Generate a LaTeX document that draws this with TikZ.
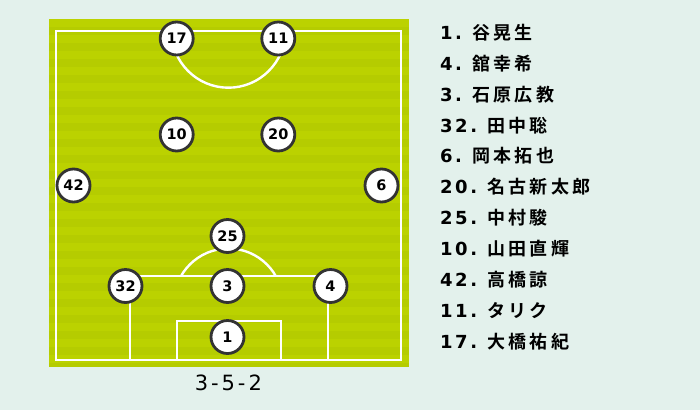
\documentclass[tikz,border=0pt]{standalone}
\usepackage{fontspec}
\setmainfont{DejaVu Sans}
\newfontfamily\jpfont{Noto Sans CJK JP}[BoldFont={* Bold},LetterSpace=19]
\newfontfamily\numfont{DejaVu Sans}[LetterSpace=14]
\newcommand{\entry}[2]{{\numfont\bfseries #1.}\hspace{10pt}{\jpfont\bfseries #2}}
\definecolor{bgc}{HTML}{E3F1EC}
\definecolor{grA}{HTML}{B5CC00}
\definecolor{grB}{HTML}{BBD200}
\definecolor{ringc}{HTML}{333333}
\tikzset{
  player/.style={circle,draw=ringc,line width=2.8pt,fill=white,minimum size=33pt,inner sep=0pt,
    font=\fontsize{14.5}{15}\selectfont\bfseries},
  pline/.style={draw=white,line width=2.4pt},
  listitem/.style={anchor=west,inner sep=0pt,font=\fontsize{18}{19}\selectfont},
}
\begin{document}
\begin{tikzpicture}[x=1pt,y=-1pt]
\useasboundingbox (0,0) rectangle (700,410);
\fill[bgc] (0,0) rectangle (700,410);
% pitch with stripes
\fill[grA] (49,19) rectangle (409,367);
\foreach \i in {0,...,21} {
  \fill[grB] (49,{19+16*\i}) rectangle (409,{min(19+16*\i+8,367)});
}
% touchlines
\draw[pline] (55.7,30.7) rectangle (401,360);
% centre circle
\begin{scope}
\clip (49,30.7) rectangle (409,120);
\draw[pline] (228.4,30.7) circle[radius=57];
\end{scope}
% penalty area
\draw[pline] (130,360) -- (130,276) -- (328,276) -- (328,360);
\draw[pline] (177,360) -- (177,321) -- (280.7,321) -- (280.7,360);
\begin{scope}
\clip (120,230) rectangle (340,276);
\draw[pline] (228.4,303) circle[radius=54.5];
\end{scope}
% players
\node[player] (p17) at (176.7,38.5) {17};
\node[player] (p11) at (278.3,38.5) {11};
\node[player] (p10) at (176.7,134.5) {10};
\node[player] (p20) at (278.3,134.5) {20};
\node[player] (p42) at (73.5,185.5) {42};
\node[player] (p6) at (381.5,185.5) {6};
\node[player] (p25) at (227.5,236) {25};
\node[player] (p32) at (125.5,286) {32};
\node[player] (p3) at (227.5,286) {3};
\node[player] (p4) at (330.5,286) {4};
\node[player] (p1) at (227.5,337) {1};
% formation
\node[font=\numfont\fontsize{21}{22}\selectfont] (form) at (228.4,382.5) {3-5-2};
% list
\node[listitem] (l1) at (440,32.5) {\entry{1}{谷晃生}};
\node[listitem] (l2) at (440,63.4) {\entry{4}{舘幸希}};
\node[listitem] (l3) at (440,94.3) {\entry{3}{石原広教}};
\node[listitem] (l4) at (440,125.2) {\entry{32}{田中聡}};
\node[listitem] (l5) at (440,156.1) {\entry{6}{岡本拓也}};
\node[listitem] (l6) at (440,187) {\entry{20}{名古新太郎}};
\node[listitem] (l7) at (440,217.9) {\entry{25}{中村駿}};
\node[listitem] (l8) at (440,248.8) {\entry{10}{山田直輝}};
\node[listitem] (l9) at (440,279.7) {\entry{42}{高橋諒}};
\node[listitem] (l10) at (440,310.6) {\entry{11}{タリク}};
\node[listitem] (l11) at (440,341.5) {\entry{17}{大橋祐紀}};
\end{tikzpicture}
\end{document}
